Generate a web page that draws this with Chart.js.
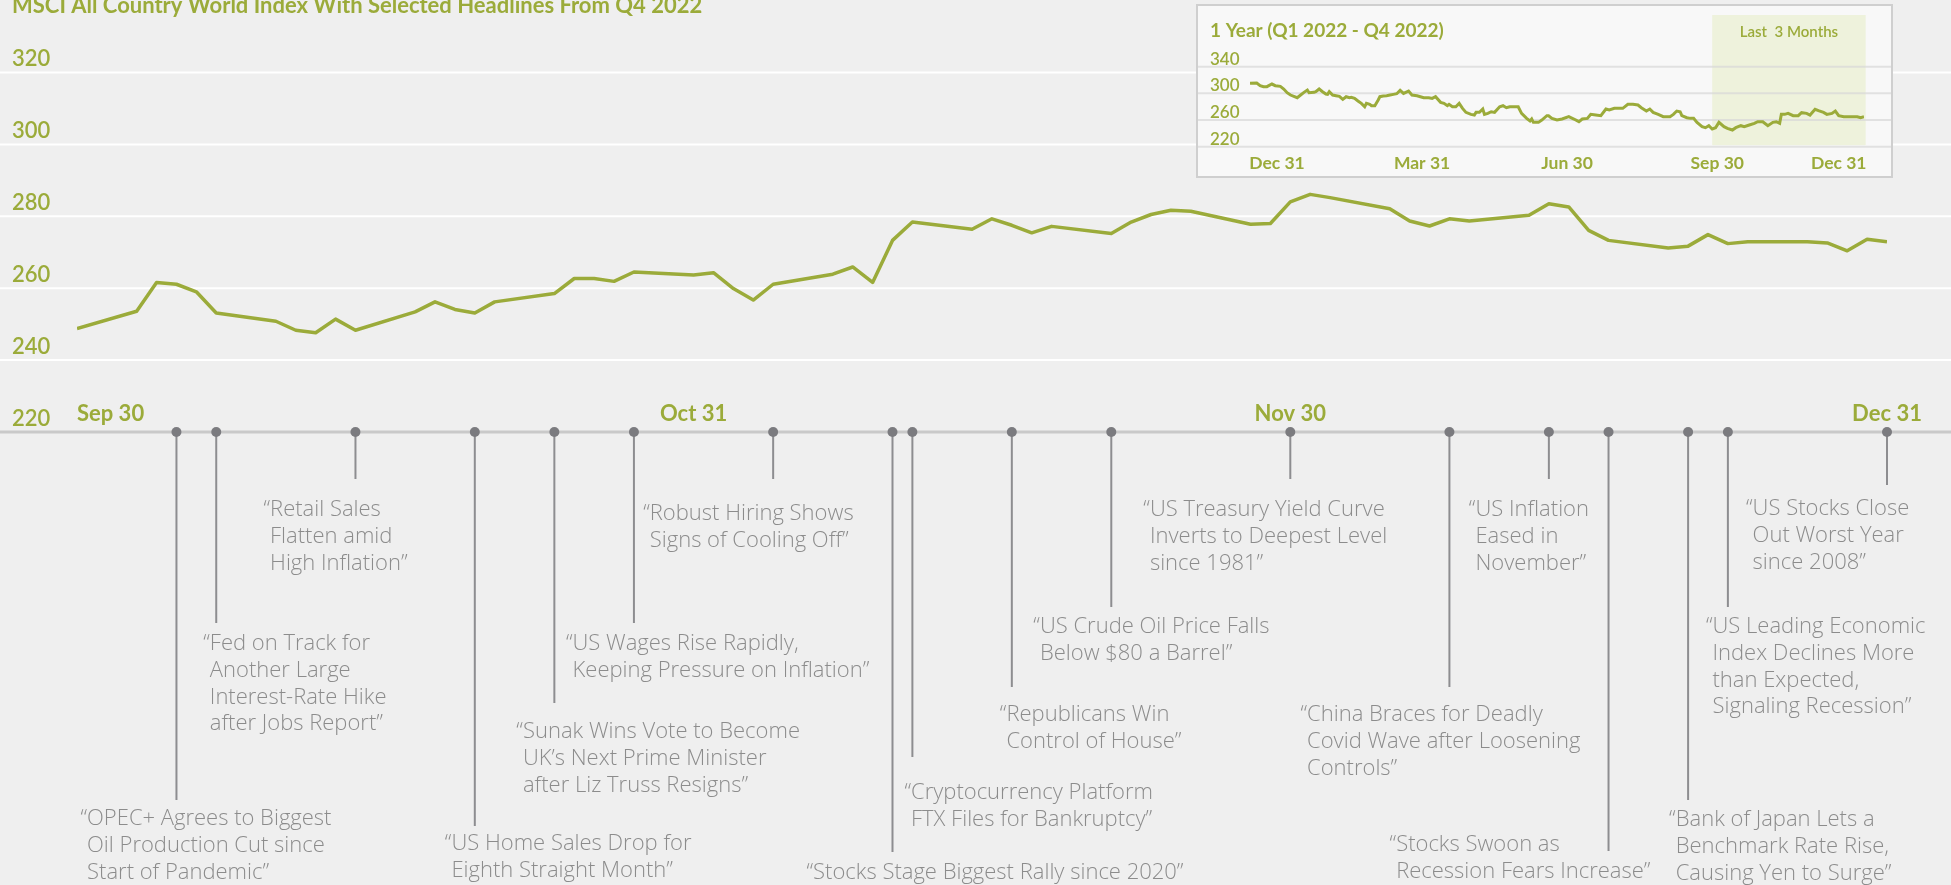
<!DOCTYPE html>
<html>
<head>
<meta charset="utf-8">
<script src="https://cdn.jsdelivr.net/npm/chart.js@4.4.1/dist/chart.umd.min.js"></script>
<style>
  html, body { margin: 0; padding: 0; background: #efefef; }
  body { width: 1951px; height: 885px; position: relative; overflow: hidden; }
  #main { position: absolute; left: 0; top: 0; }
  #insetBox { position: absolute; left: 1196px; top: 4px; width: 693px; height: 170px;
              border: 2px solid #cfcfcf; background: #f8f8f8; }
  #inset { display: block; }
</style>
</head>
<body>
<canvas id="main" width="1951" height="885"></canvas>
<div id="insetBox"><canvas id="inset" width="693" height="170"></canvas></div>
<script>
// ---- main series: MSCI ACWI, Q4 2022 (weekdays) ----
const dates = ['2022-09-30',
  '2022-10-03','2022-10-04','2022-10-05','2022-10-06','2022-10-07','2022-10-10','2022-10-11','2022-10-12','2022-10-13','2022-10-14',
  '2022-10-17','2022-10-18','2022-10-19','2022-10-20','2022-10-21','2022-10-24','2022-10-25','2022-10-26','2022-10-27','2022-10-28','2022-10-31',
  '2022-11-01','2022-11-02','2022-11-03','2022-11-04','2022-11-07','2022-11-08','2022-11-09','2022-11-10','2022-11-11','2022-11-14','2022-11-15',
  '2022-11-16','2022-11-17','2022-11-18','2022-11-21','2022-11-22','2022-11-23','2022-11-24','2022-11-25','2022-11-28','2022-11-29','2022-11-30',
  '2022-12-01','2022-12-02','2022-12-05','2022-12-06','2022-12-07','2022-12-08','2022-12-09','2022-12-12','2022-12-13','2022-12-14','2022-12-15',
  '2022-12-16','2022-12-19','2022-12-20','2022-12-21','2022-12-22','2022-12-23','2022-12-26','2022-12-27','2022-12-28','2022-12-29','2022-12-30'];
const index = [248.8,
  253.6,261.6,261.1,259.0,253.1,250.8,248.3,247.6,251.4,248.3,
  253.4,256.2,254.1,253.1,256.2,258.5,262.7,262.7,261.9,264.5,263.7,
  264.3,259.9,256.7,261.1,263.9,265.9,261.6,273.3,278.4,276.4,279.3,
  277.5,275.4,277.2,275.2,278.4,280.5,281.7,281.4,277.8,278.0,284.0,
  286.1,285.2,282.1,278.7,277.3,279.3,278.7,280.3,283.5,282.6,276.1,
  273.3,271.2,271.7,274.9,272.4,272.9,272.9,272.6,270.4,273.6,272.9];

const yTicks = [220, 240, 260, 280, 300, 320];
const xTickDates = ['2022-09-30', '2022-10-31', '2022-11-30', '2022-12-30'];
const xTickLabels = ['Sep 30', 'Oct 31', 'Nov 30', 'Dec 31'];

// ---- headlines ----
const eventDates = ['2022-10-05','2022-10-07','2022-10-14','2022-10-20','2022-10-24','2022-10-28','2022-11-04','2022-11-10','2022-11-11',
  '2022-11-16','2022-11-21','2022-11-30','2022-12-08','2022-12-13','2022-12-16','2022-12-20','2022-12-22','2022-12-30'];
const headlines = [
  ['“OPEC+ Agrees to Biggest', 'Oil Production Cut since', 'Start of Pandemic”'],
  ['“Fed on Track for', 'Another Large', 'Interest-Rate Hike', 'after Jobs Report”'],
  ['“Retail Sales', 'Flatten amid', 'High Inflation”'],
  ['“US Home Sales Drop for', 'Eighth Straight Month”'],
  ['“Sunak Wins Vote to Become', 'UK’s Next Prime Minister', 'after Liz Truss Resigns”'],
  ['“US Wages Rise Rapidly,', 'Keeping Pressure on Inflation”'],
  ['“Robust Hiring Shows', 'Signs of Cooling Off”'],
  ['“Stocks Stage Biggest Rally since 2020”'],
  ['“Cryptocurrency Platform', 'FTX Files for Bankruptcy”'],
  ['“Republicans Win', 'Control of House”'],
  ['“US Crude Oil Price Falls', 'Below $80 a Barrel”'],
  ['“US Treasury Yield Curve', 'Inverts to Deepest Level', 'since 1981”'],
  ['“China Braces for Deadly', 'Covid Wave after Loosening', 'Controls”'],
  ['“US Inflation', 'Eased in', 'November”'],
  ['“Stocks Swoon as', 'Recession Fears Increase”'],
  ['“Bank of Japan Lets a', 'Benchmark Rate Rise,', 'Causing Yen to Surge”'],
  ['“US Leading Economic', 'Index Declines More', 'than Expected,', 'Signaling Recession”'],
  ['“US Stocks Close', 'Out Worst Year', 'since 2008”']
];
// stem end y, text offset from stem, first line y (layout only)
const eventLayout = [
  [800, -96, 819], [623, -13, 644], [479, -92, 510], [826, -30, 844], [703, -38, 732], [623, -68, 644],
  [479, -130, 514], [852, -86, 873], [757, -8, 793], [687, -12, 715], [607, -78, 627], [479, -147, 510],
  [687, -149, 715], [479, -80, 510], [851, -219, 845], [800, -19, 820], [607, -22, 627], [485, -141, 509]
];

// ---- inset: 1 year, days from Dec 31 2021 ----
const insetDays = [0,4,6,8,10,13,15,18,20,22,24,26,28,30,32,34,35,38,39,41,43,45,46,47,49,51,53,55,57,59,60,62,64,66,68,69,71,72,74,76,77,79,81,83,85,87,89,
  91,94,96,99,101,103,106,108,110,113,115,117,118,120,122,124,126,128,131,133,134,136,138,139,141,143,145,148,150,152,154,157,159,161,164,166,167,168,171,173,176,177,179,182,
  185,189,192,195,197,200,202,205,208,211,213,216,219,221,224,227,230,232,235,237,239,242,245,247,249,251,253,255,256,259,261,263,265,268,270,272,274,276,278,
  281,283,286,288,291,293,296,299,301,304,307,310,312,314,315,317,319,322,325,327,330,332,335,337,340,342,345,347,349,352,355,358,360,362,364];
const insetValues = [315,315.5,311.5,310,310,314,311.5,310.5,306.5,301,297.5,295.5,293.5,297.5,301.5,305,301,301.5,302.5,306.5,302.5,299,298.5,302.5,297.5,296.5,295.5,291,295,293.5,294,292.5,288.5,285,280,285,283.5,281.5,281.5,290,295,296,296.5,297.5,298.5,299.5,304.5,
  300,303.5,297.5,296.5,295,293.5,293.5,292.5,295,286.5,285,281.5,283.5,280,280,285,277.5,271.5,268.5,267.5,271.5,271.5,276.5,268.5,270,272.5,271.5,280,281.5,278.5,280,280,280,270,262.5,258.5,261.5,256.5,256.5,260,266.5,266.5,262.5,260,
  261.5,265,261.5,257.5,261.5,262.5,268.5,267.5,266.5,276.5,275,277.5,277.5,277.5,283.5,283.5,282.5,278.5,273.5,276.5,271.5,268.5,265,265,265,268.5,273.5,272.5,266.5,263.5,262.5,262.5,256.5,250,248.5,251.5,246.5,248.5,256.5,
  250,247.5,245,248.5,251.5,250,252.5,255,257.5,257.5,251.5,256.5,257.5,255,268.5,268.5,270,266.5,266.5,271,270,267.5,276,274,271.5,268.5,270,273.5,266.5,265,265,265,265,263.5,265];
const insetYTicks = [220, 260, 300, 340];
const insetTickDays = [16, 102, 188, 277, 349];
const insetTickLabels = ['Dec 31', 'Mar 31', 'Jun 30', 'Sep 30', 'Dec 31'];
const shadeDays = [274, 365];

const GREEN = '#9bab3a';
const GRAY = '#8c8c8c';

const day0 = Date.UTC(2022, 8, 30);
function dayOf(s) {
  const p = s.split('-').map(Number);
  return (Date.UTC(p[0], p[1] - 1, p[2]) - day0) / 864e5;
}

const mainDecor = {
  id: 'mainDecor',
  beforeDatasetsDraw(chart) {
    const { ctx, scales: { x, y } } = chart;
    ctx.save();
    yTicks.forEach((v, i) => {
      const py = y.getPixelForValue(v);
      ctx.beginPath();
      ctx.strokeStyle = i === 0 ? '#c9c9c9' : '#ffffff';
      ctx.lineWidth = i === 0 ? 3 : 2;
      ctx.moveTo(0, py); ctx.lineTo(chart.width, py);
      ctx.stroke();
      ctx.fillStyle = GREEN;
      ctx.font = '600 22px Lato';
      ctx.textAlign = 'left';
      ctx.textBaseline = 'middle';
      ctx.fillText(String(v), 12, py - 13.5);
    });
    // x labels above the baseline
    const base = y.getPixelForValue(yTicks[0]);
    ctx.font = 'bold 22px Lato';
    xTickDates.forEach((d, i) => {
      ctx.textAlign = i === 0 ? 'left' : 'center';
      ctx.fillText(xTickLabels[i], x.getPixelForValue(dayOf(d)), base - 18);
    });
    // title (clipped by the top edge, as in the original)
    ctx.font = 'bold 22px Lato';
    ctx.textAlign = 'left';
    ctx.textBaseline = 'alphabetic';
    ctx.fillText('MSCI All Country World Index With Selected Headlines From Q4 2022', 12, 13);
    ctx.restore();
  },
  afterDatasetsDraw(chart) {
    const { ctx, scales: { x, y } } = chart;
    const base = y.getPixelForValue(yTicks[0]);
    ctx.save();
    ctx.font = '300 22px "Open Sans"';
    const qw = ctx.measureText('“').width;
    eventDates.forEach((d, i) => {
      const px = x.getPixelForValue(dayOf(d));
      const [stemEnd, dx, top] = eventLayout[i];
      ctx.beginPath();
      ctx.strokeStyle = '#8d8d90';
      ctx.lineWidth = 2;
      ctx.moveTo(px, base); ctx.lineTo(px, stemEnd);
      ctx.stroke();
      ctx.beginPath();
      ctx.fillStyle = '#7b7b7f';
      ctx.arc(px, base, 5, 0, Math.PI * 2);
      ctx.fill();
      ctx.fillStyle = GRAY;
      ctx.textAlign = 'left';
      ctx.textBaseline = 'middle';
      headlines[i].forEach((line, j) => {
        ctx.fillText(line, px + dx + (j === 0 ? 0 : qw), top + j * 26.67);
      });
    });
    ctx.restore();
  }
};

new Chart(document.getElementById('main'), {
  type: 'line',
  data: {
    datasets: [{
      data: dates.map((d, i) => ({ x: dayOf(d), y: index[i] })),
      borderColor: GREEN,
      borderWidth: 3.5,
      pointRadius: 0,
      tension: 0,
      borderJoinStyle: 'round'
    }]
  },
  options: {
    responsive: false,
    animation: false,
    events: [],
    layout: { padding: { left: 77, right: 64, top: 72.5, bottom: 453 } },
    plugins: { legend: { display: false }, tooltip: { enabled: false } },
    scales: {
      x: { type: 'linear', min: 0, max: 91, display: false },
      y: { min: 220, max: 320, display: false }
    }
  },
  plugins: [mainDecor]
});

const insetDecor = {
  id: 'insetDecor',
  beforeDatasetsDraw(chart) {
    const { ctx, scales: { x, y } } = chart;
    ctx.save();
    const s0 = x.getPixelForValue(shadeDays[0]), s1 = x.getPixelForValue(shadeDays[1]);
    const bottom = y.getPixelForValue(insetYTicks[0]);
    ctx.fillStyle = '#eef2dc';
    ctx.fillRect(s0, 9, s1 - s0, bottom - 10.5);
    insetYTicks.forEach(v => {
      const py = y.getPixelForValue(v);
      ctx.beginPath();
      ctx.strokeStyle = 'rgba(215,215,215,0.7)';
      ctx.lineWidth = 2;
      ctx.moveTo(0, py); ctx.lineTo(chart.width, py);
      ctx.stroke();
      ctx.fillStyle = GREEN;
      ctx.font = '600 17px Lato';
      ctx.textAlign = 'left';
      ctx.textBaseline = 'middle';
      ctx.fillText(String(v), 12, py - 7.4);
    });
    ctx.fillStyle = GREEN;
    ctx.font = 'bold 19px Lato';
    ctx.fillText('1 Year (Q1 2022 - Q4 2022)', 12, 24.7);
    ctx.font = '600 15px Lato';
    ctx.textAlign = 'center';
    ctx.fillText('Last  3 Months', (s0 + s1) / 2, 26.3);
    ctx.font = 'bold 17.5px Lato';
    insetTickDays.forEach((d, i) => {
      ctx.fillText(insetTickLabels[i], x.getPixelForValue(d), bottom + 16.6);
    });
    ctx.restore();
  }
};

new Chart(document.getElementById('inset'), {
  type: 'line',
  data: {
    datasets: [{
      data: insetDays.map((d, i) => ({ x: d, y: insetValues[i] })),
      borderColor: GREEN,
      borderWidth: 3,
      pointRadius: 0,
      tension: 0
    }]
  },
  options: {
    responsive: false,
    animation: false,
    events: [],
    layout: { padding: { left: 52, right: 27, top: 60.7, bottom: 29.3 } },
    plugins: { legend: { display: false }, tooltip: { enabled: false } },
    scales: {
      x: { type: 'linear', min: 0, max: 364, display: false },
      y: { min: 220, max: 340, display: false }
    }
  },
  plugins: [insetDecor]
});
</script>
</body>
</html>
